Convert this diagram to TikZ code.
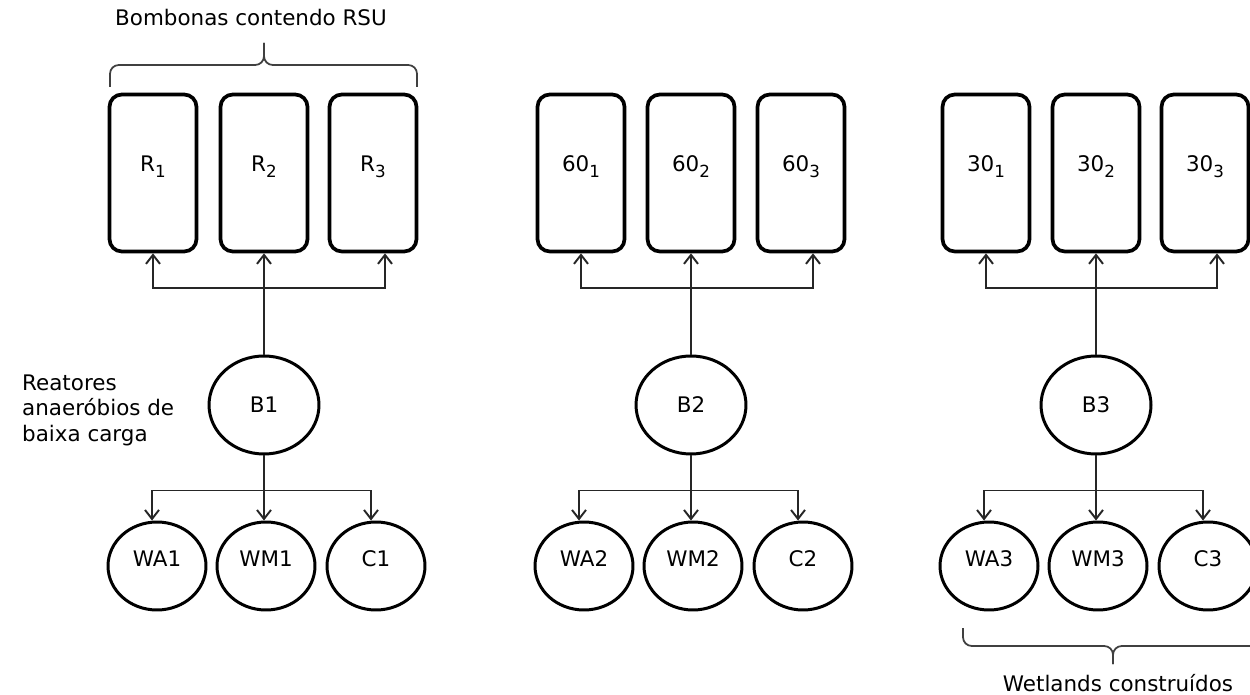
\documentclass[tikz,border=0pt]{standalone}
\usepackage{fontspec}
\setmainfont{DejaVu Sans}
\usetikzlibrary{arrows.meta,shapes.geometric}
\newcommand{\idx}[1]{\raisebox{-0.28em}{\fontsize{9.5}{10}\selectfont #1}}

\begin{document}
\begin{tikzpicture}[
  x=0.02cm, y=-0.02cm,
  font=\fontsize{12.2}{14.5}\selectfont,
  arr/.style={-{Straight Barb[length=1.8mm, width=2.8mm]}, line width=1.1pt, black!85},
  bbox/.style={draw, line width=2.1pt, rounded corners=7pt, inner sep=0pt,
               minimum width=1.74cm, minimum height=3.14cm,
               text height=0.31cm, text depth=0.36cm},
  bcirc/.style={draw, ellipse, line width=1.7pt, inner sep=0pt,
                minimum width=2.2cm, minimum height=1.96cm,
                text height=0.31cm, text depth=0cm},
  wcirc/.style={draw, ellipse, line width=1.7pt, inner sep=0pt,
                minimum width=1.96cm, minimum height=1.76cm,
                text height=0.31cm, text depth=0.28cm},
  brc/.style={line width=1pt, black!75, rounded corners=5pt},
]
\useasboundingbox (0,0) rectangle (1250,695);
% bombonas
\node[bbox] (r1) at (153, 173) {R\idx{1}};
\node[bbox] (r2) at (264, 173) {R\idx{2}};
\node[bbox] (r3) at (373, 173) {R\idx{3}};
\node[bbox] (s1) at (581, 173) {60\idx{1}};
\node[bbox] (s2) at (691, 173) {60\idx{2}};
\node[bbox] (s3) at (801, 173) {60\idx{3}};
\node[bbox] (t1) at (986, 173) {30\idx{1}};
\node[bbox] (t2) at (1096,173) {30\idx{2}};
\node[bbox] (t3) at (1205,173) {30\idx{3}};
% reatores
\node[bcirc] (b1) at (264, 405) {B1};
\node[bcirc] (b2) at (691, 405) {B2};
\node[bcirc] (b3) at (1096,405) {B3};
% wetlands
\node[wcirc] (wa1) at (157, 566) {WA1};
\node[wcirc] (wm1) at (266, 566) {WM1};
\node[wcirc] (c1)  at (376, 566) {C1};
\node[wcirc] (wa2) at (584, 566) {WA2};
\node[wcirc] (wm2) at (693, 566) {WM2};
\node[wcirc] (c2)  at (803, 566) {C2};
\node[wcirc] (wa3) at (989, 566) {WA3};
\node[wcirc] (wm3) at (1098,566) {WM3};
\node[wcirc] (c3)  at (1208,566) {C3};
% textos
\node (bomb) at (251, 18) {Bombonas contendo RSU};
\node[anchor=west, align=left] (reat) at (16, 410) {Reatores\\anaeróbios de\\baixa carga};
\node (wetl) at (1118, 683) {Wetlands construídos};
\draw[brc] (110, 87) -- (110, 65) -- (264, 65) -- (264, 43);
\draw[brc] (417, 87) -- (417, 65) -- (264, 65) -- (264, 43);
\draw[brc] (963, 628) -- (963, 646) -- (1113, 646) -- (1113, 664);
\draw[brc] (1263,628) -- (1263,646) -- (1113, 646) -- (1113, 664);
% B -> bombonas
\draw[arr] (b1.north) -- (r2.south);
\draw[arr] ([yshift=-0.7cm]r2.south) -| (r1.south);
\draw[arr] ([yshift=-0.7cm]r2.south) -| ([xshift=0.24cm]r3.south);
\draw[arr] (b2.north) -- (s2.south);
\draw[arr] ([yshift=-0.7cm]s2.south) -| (s1.south);
\draw[arr] ([yshift=-0.7cm]s2.south) -| ([xshift=0.24cm]s3.south);
\draw[arr] (b3.north) -- (t2.south);
\draw[arr] ([yshift=-0.7cm]t2.south) -| (t1.south);
\draw[arr] ([yshift=-0.7cm]t2.south) -| ([xshift=0.24cm]t3.south);
% B -> wetlands
\draw[arr] (b1.south) -- (b1.south |- wm1.north);
\draw[arr] ([yshift=-0.7cm]b1.south) -| ([xshift=-0.1cm]wa1.north);
\draw[arr] ([yshift=-0.7cm]b1.south) -| ([xshift=-0.1cm]c1.north);
\draw[arr] (b2.south) -- (b2.south |- wm2.north);
\draw[arr] ([yshift=-0.7cm]b2.south) -| ([xshift=-0.1cm]wa2.north);
\draw[arr] ([yshift=-0.7cm]b2.south) -| ([xshift=-0.1cm]c2.north);
\draw[arr] (b3.south) -- (b3.south |- wm3.north);
\draw[arr] ([yshift=-0.7cm]b3.south) -| ([xshift=-0.1cm]wa3.north);
\draw[arr] ([yshift=-0.7cm]b3.south) -| ([xshift=-0.1cm]c3.north);
\end{tikzpicture}
\end{document}
